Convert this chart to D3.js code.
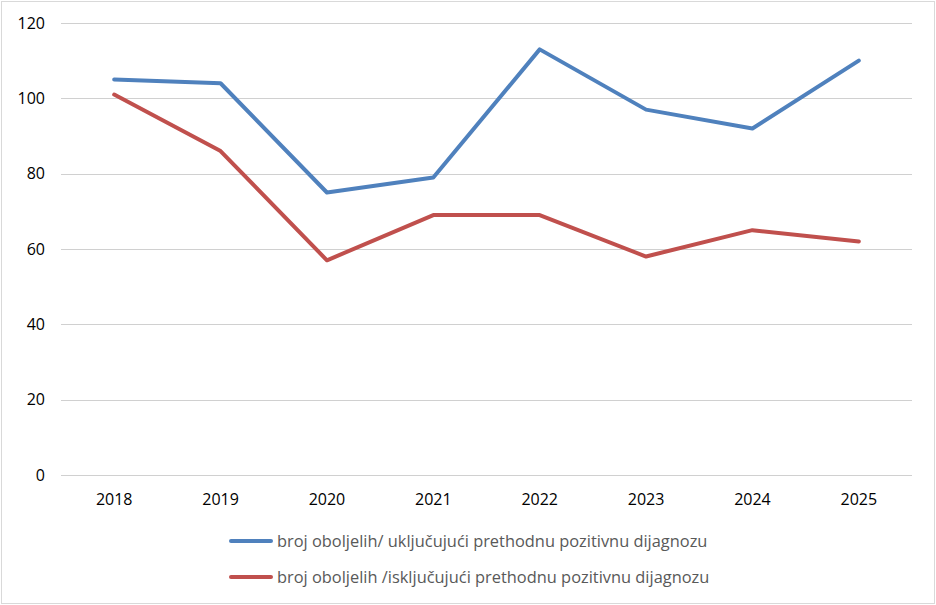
<!DOCTYPE html>
<html>
<head>
<meta charset="utf-8">
<script src="https://cdn.jsdelivr.net/npm/d3@7"></script>
<style>
  body { margin: 0; background: #fff; }
  text { font-family: "Open Sans", "Liberation Sans", sans-serif; }
</style>
</head>
<body>
<div id="chart"></div>
<script>
var svgWidth = 936;
var svgHeight = 605;

var years = ["2018", "2019", "2020", "2021", "2022", "2023", "2024", "2025"];
var including = [105, 104, 75, 79, 113, 97, 92, 110];
var excluding = [101, 86, 57, 69, 69, 58, 65, 62];
var yTicks = [0, 20, 40, 60, 80, 100, 120];
var seriesNames = [
  "broj oboljelih/ uključujući prethodnu pozitivnu dijagnozu",
  "broj oboljelih /isključujući prethodnu pozitivnu dijagnozu"
];
var seriesColors = ["#4F81BD", "#C0504D"];

var plot = { left: 61, right: 912, top: 23, bottom: 475 };
var fontStack = "'Open Sans', 'Liberation Sans', sans-serif";

var svg = d3.select("#chart")
  .append("svg")
  .attr("width", svgWidth)
  .attr("height", svgHeight);

// outer chart border
svg.append("rect")
  .attr("x", 1.5).attr("y", 1.5)
  .attr("width", svgWidth - 3).attr("height", svgHeight - 3)
  .attr("fill", "#fff")
  .attr("stroke", "#d9d9d9")
  .attr("stroke-width", 1);

var x = d3.scaleBand()
  .domain(years)
  .range([plot.left, plot.right]);

var y = d3.scaleLinear()
  .domain([0, 120])
  .range([plot.bottom, plot.top]);

// gridlines
svg.append("g")
  .selectAll("line")
  .data(yTicks)
  .join("line")
  .attr("x1", plot.left)
  .attr("x2", plot.right)
  .attr("y1", d => Math.round(y(d)) + 0.5)
  .attr("y2", d => Math.round(y(d)) + 0.5)
  .attr("stroke", "#d0d0d0")
  .attr("stroke-width", 1);

// y axis labels
var leftAxis = d3.axisLeft(y).tickValues(yTicks).tickSize(0).tickPadding(0);
var yAxis = svg.append("g")
  .attr("transform", `translate(${plot.left - 16}, 0)`)
  .call(leftAxis);
yAxis.select(".domain").remove();
yAxis.selectAll("text")
  .attr("font-size", "16px")
  .attr("fill", "#000")
  .style("font-family", fontStack);

// x axis labels
var bottomAxis = d3.axisBottom(x).tickSize(0).tickPadding(0);
var xAxis = svg.append("g")
  .attr("transform", `translate(0, ${plot.bottom + 19})`)
  .call(bottomAxis);
xAxis.select(".domain").remove();
xAxis.selectAll("text")
  .attr("font-size", "16px")
  .attr("fill", "#000")
  .style("font-family", fontStack);

// lines
var line = d3.line()
  .x((d, i) => x(years[i]) + x.bandwidth() / 2)
  .y(d => y(d));

[including, excluding].forEach(function(series, i) {
  svg.append("path")
    .datum(series)
    .attr("fill", "none")
    .attr("stroke", seriesColors[i])
    .attr("stroke-width", 4)
    .attr("stroke-linejoin", "round")
    .attr("stroke-linecap", "round")
    .attr("d", line);
});

// legend
var legend = svg.append("g")
  .selectAll("g")
  .data(seriesNames)
  .join("g")
  .attr("transform", (d, i) => `translate(231, ${541 + i * 36})`);

legend.append("line")
  .attr("x1", 0).attr("x2", 40)
  .attr("y1", 0).attr("y2", 0)
  .attr("stroke", (d, i) => seriesColors[i])
  .attr("stroke-width", 4)
  .attr("stroke-linecap", "round");

legend.append("text")
  .attr("x", 46)
  .attr("y", 0)
  .attr("dy", "0.35em")
  .attr("font-size", "16.4px")
  .attr("fill", "#595959")
  .style("font-family", fontStack)
  .text(d => d);
</script>
</body>
</html>
